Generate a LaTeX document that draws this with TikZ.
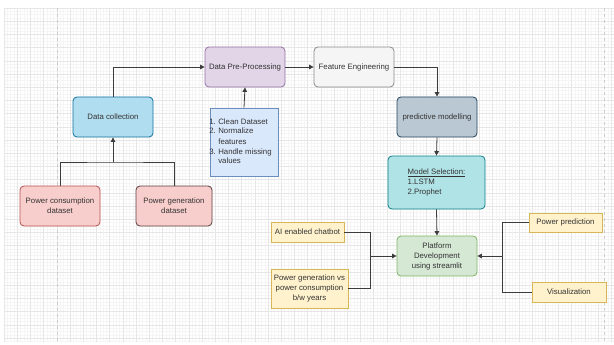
\documentclass[tikz,border=0pt]{standalone}
\usepackage{fontspec}
\setmainfont{Liberation Sans}
\usetikzlibrary{arrows.meta}
\definecolor{gridminor}{HTML}{F5F5F5}
\definecolor{gridmajor}{HTML}{E6E6E6}
\definecolor{pagebrk}{HTML}{CCCCCC}
\definecolor{linec}{HTML}{3C3C3C}
\definecolor{txt}{HTML}{333333}
\definecolor{preF}{HTML}{E1D5E7}\definecolor{preD}{HTML}{9673A6}
\definecolor{feF}{HTML}{F5F5F5}\definecolor{feD}{HTML}{8A8A8A}
\definecolor{dcF}{HTML}{B1DDF0}\definecolor{dcD}{HTML}{10739E}
\definecolor{lsF}{HTML}{DAE8FC}\definecolor{lsD}{HTML}{6C8EBF}
\definecolor{pmF}{HTML}{BAC8D3}\definecolor{pmD}{HTML}{23445D}
\definecolor{msF}{HTML}{B0E3E6}\definecolor{msD}{HTML}{0E8088}
\definecolor{pdF}{HTML}{D5E8D4}\definecolor{pdD}{HTML}{82B366}
\definecolor{redF}{HTML}{F8CECC}\definecolor{redD}{HTML}{B85450}\definecolor{redDD}{HTML}{5A3F3F}
\definecolor{yeF}{HTML}{FFF2CC}\definecolor{yeD}{HTML}{D6B656}
\tikzset{
  box/.style={rectangle, rounded corners=4pt, line width=0.8pt, text=txt, align=center,
    font=\fontsize{7.8}{10}\selectfont, inner sep=1pt, minimum width=80pt, minimum height=40pt},
  note/.style={rectangle, line width=0.6pt, fill=yeF, draw=yeD, text=txt, align=center,
    font=\fontsize{7.8}{9.8}\selectfont, inner sep=1pt},
  conn/.style={draw=linec, line width=0.8pt},
  arr/.style={conn, -{Triangle[length=4.5pt,width=4.5pt]}}
}
\begin{document}
\begin{tikzpicture}[x=1pt,y=-1pt]
\useasboundingbox (0,0) rectangle (614,345);
\fill[white] (0,0) rectangle (614,345);
% grid
\foreach \i in {0,...,185} {\draw[gridminor, line width=0.3pt] ({4+3.3*\i},8) -- ({4+3.3*\i},342);}
\foreach \j in {0,...,101} {\draw[gridminor, line width=0.3pt] (4,{8+3.3*\j}) -- (614,{8+3.3*\j});}
\foreach \i in {0,...,46} {\draw[gridmajor, line width=0.5pt] ({4+13.2*\i},8) -- ({4+13.2*\i},342);}
\foreach \j in {0,...,25} {\draw[gridmajor, line width=0.5pt] (4,{8+13.2*\j}) -- (614,{8+13.2*\j});}
\draw[pagebrk, dashed, line width=0.6pt] (57,8) -- (57,342);
\draw[pagebrk, dashed, line width=0.6pt] (604,8) -- (604,342);

% nodes
\node[box, fill=preF, draw=preD] (pre) at (245,67) {Data Pre-Processing};
\node[box, fill=feF, draw=feD] (fe) at (354,67) {Feature Engineering};
\node[box, fill=dcF, draw=dcD] (dc) at (113,117) {Data collection};
\node[box, rounded corners=0pt, fill=lsF, draw=lsD, minimum width=68pt, minimum height=68pt, inner sep=0pt] (ls) at (244,142)
  {\hspace*{-7pt}\begin{tabular}{@{}l@{\hspace{2.5pt}}l@{}}1.&Clean Dataset\\2.&Normalize\\&features\\3.&Handle missing\\&values\end{tabular}};
\node[box, fill=pmF, draw=pmD] (pm) at (437,117) {predictive modelling};
\node[box, fill=msF, draw=msD, minimum width=97pt, minimum height=53pt, align=left] (ms) at (436.5,182.5)
  {\underline{Model Selection:}\\1.LSTM\\2.Prophet};
\node[box, fill=pdF, draw=pdD] (pd) at (437,256) {Platform\\Development\\using streamlit};
\node[box, fill=redF, draw=redD] (pc) at (60,206) {Power consumption\\dataset};
\node[box, fill=redF, draw=redDD, minimum width=76pt] (pg) at (174,206) {Power generation\\dataset};
\node[note, minimum width=73pt, minimum height=20pt] (ai) at (307.5,232) {AI enabled chatbot};
\node[note, minimum width=77pt, minimum height=39pt] (pgv) at (309.5,288.5) {Power generation vs\\power consumption\\b/w years};
\node[note, minimum width=73pt, minimum height=19pt] (pp) at (565.5,222.5) {Power prediction};
\node[note, minimum width=74pt, minimum height=20pt] (vis) at (569,292) {Visualization};

% junctions
\coordinate (j1) at (113,162);
\coordinate (j2) at (370,256);
\coordinate (j3) at (502,256);

% connectors
\draw[arr] (dc.north) |- (pre.west);
\draw[arr] (pre.east) -- (fe.west);
\draw[arr] (fe.east) -| (pm.north);
\draw[arr] (ls.north) -- (pre.south);
\draw[conn] (pc.north) |- (j1) -| (pg.north);
\draw[arr] (j1) -- (dc.south);
\draw[arr] (pm.south) -- (ms.north);
\draw[arr] (ms.south) -- (pd.north);
\draw[conn] (ai.east) -| (j2);
\draw[conn] (pgv.east) -| (j2);
\draw[arr] (j2) -- (pd.west);
\draw[conn] (pp.west) -| (j3);
\draw[conn] (vis.west) -| (j3);
\draw[arr] (j3) -- (pd.east);
\end{tikzpicture}
\end{document}
